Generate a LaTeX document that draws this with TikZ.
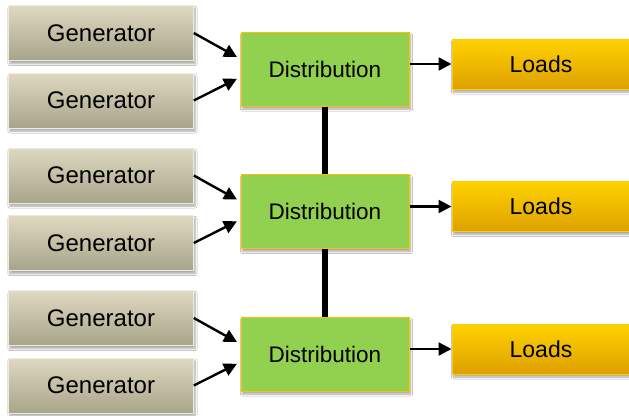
\documentclass[tikz,border=0pt]{standalone}
\usepackage{fontspec}
\setmainfont{Liberation Sans}
\usetikzlibrary{arrows.meta,shadows.blur}
\definecolor{genTop}{RGB}{222,217,192}
\definecolor{genBot}{RGB}{168,164,138}
\definecolor{distGreen}{RGB}{146,208,80}
\definecolor{boxEdge}{RGB}{255,192,0}
\definecolor{loadTop}{RGB}{255,210,0}
\definecolor{loadBot}{RGB}{222,160,0}
\tikzset{
  boxshadow/.style={blur shadow={shadow xshift=1.5pt,shadow yshift=-3pt,shadow opacity=35,shadow blur steps=6}},
  gen/.style={boxshadow,minimum width=185pt,minimum height=55pt,top color=genTop,bottom color=genBot,
    draw=genTop!50!white,line width=0.6pt,font=\fontsize{24}{28}\selectfont},
  dist/.style={boxshadow,minimum width=168pt,minimum height=74pt,fill=distGreen,draw=boxEdge,
    line width=1pt,font=\fontsize{22.5}{27}\selectfont},
  load/.style={boxshadow,minimum width=178pt,minimum height=50pt,top color=loadTop,bottom color=loadBot,
    draw=boxEdge!80!yellow,line width=1pt,font=\fontsize{23}{27}\selectfont},
  wire/.style={line width=2.4pt,-{Triangle[length=13pt,width=13pt]}},
  bus/.style={line width=5.5pt}
}
\begin{document}
\begin{tikzpicture}[x=1pt,y=-1pt]
  \useasboundingbox[fill=white] (0,0) rectangle (629,415);
  % three feeder groups, one above the other
  \foreach \g in {0,1,2}{
    \pgfmathsetmacro\o{142.5*\g}
    \node[gen] (ga\g) at (101,33+\o) {Generator};
    \node[gen] (gb\g) at (101,100.5+\o) {Generator};
    \node[dist] (d\g) at (325,69+\o) {Distribution};
    \node[load] (l\g) at (541,64+\o) {Loads};
    \draw[wire,shorten >=4pt] (ga\g.east) -- ([yshift=10pt]d\g.west);
    \draw[wire,shorten >=4pt] (gb\g.east) -- ([yshift=-8pt]d\g.west);
    \draw[wire] (l\g.west -| d\g.east) -- (l\g.west);
  }
  % tie lines between the distribution boxes
  \draw[bus] (d0.south) -- (d1.north) (d1.south) -- (d2.north);
\end{tikzpicture}
\end{document}
